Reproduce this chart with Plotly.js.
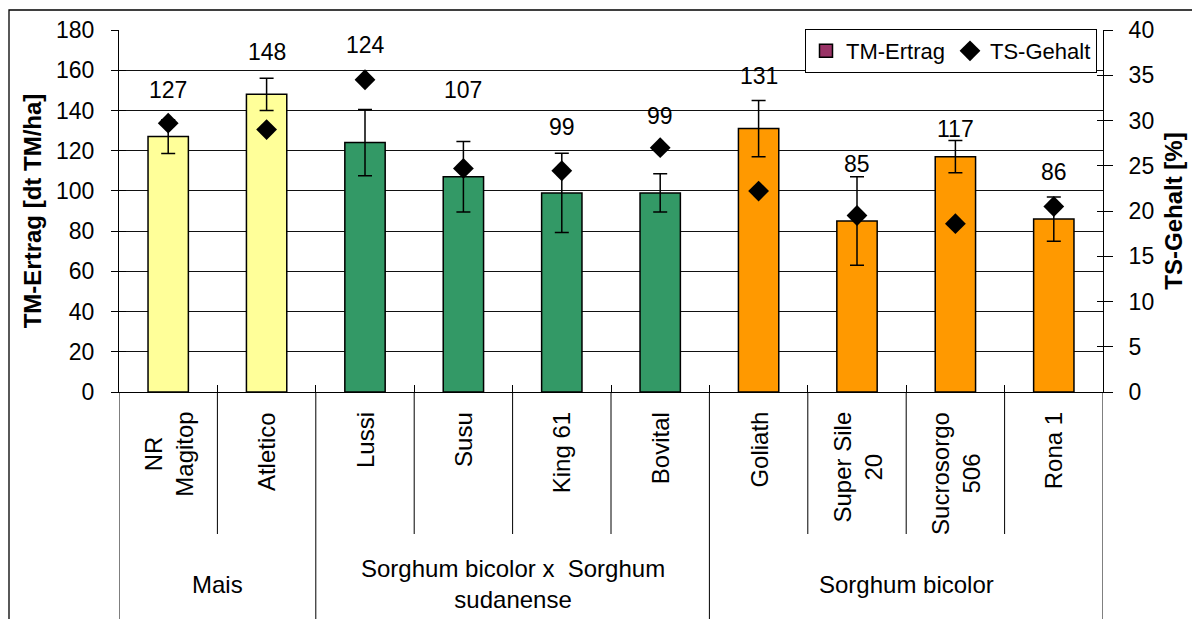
<!DOCTYPE html>
<html>
<head>
<meta charset="utf-8">
<script src="https://cdn.plot.ly/plotly-3.0.1.min.js"></script>
<style>html,body{margin:0;padding:0;background:#fff;}#chart{width:1192px;height:619px;}</style>
</head>
<body>
<div id="chart"></div>
<script>
// ---------- data ----------
var categories = ['NR Magitop','Atletico','Lussi','Susu','King 61','Bovital','Goliath','Super Sile 20','Sucrosorgo 506','Rona 1'];
var categoryLabels = ['NR<br>Magitop','Atletico','Lussi','Susu','King 61','Bovital','Goliath','Super Sile<br>20','Sucrosorgo<br>506','Rona 1'];
var tmErtrag = [127, 148, 124, 107, 99, 99, 131, 85, 117, 86];
var tmError = [8.4, 8, 16.5, 17.5, 19.7, 9.5, 14, 22, 8, 11];
var tsGehalt = [29.7, 29.0, 34.5, 24.7, 24.45, 27.0, 22.2, 19.5, 18.6, 20.5];
var groupOf = [0, 0, 1, 1, 1, 1, 2, 2, 2, 2];
var groupNames = ['Mais', 'Sorghum bicolor x  Sorghum<br>sudanense', 'Sorghum bicolor'];

// ---------- styling ----------
var groupColors = ['#FFFF99', '#339966', '#FF9900'];
var labelY = [150, 169, 172.5, 150, 131.6, 137, 157, 113.4, 130.6, 109.5]; // value-label heights (left-axis units)
var FONT = 'Liberation Sans, Arial, sans-serif';
var FS = 24, FT = 23;

var L = 119, R = 1103, T = 30, B = 392, W = 1192, H = 619;
function px2x(px){ return (px - L) / (R - L); }
function py2y(py){ return (B - py) / (B - T); }

var barTrace = {
  type: 'bar', x: categories, y: tmErtrag, width: 0.41,
  marker: { color: groupOf.map(function(g){ return groupColors[g]; }), line: { color: '#000', width: 1.5 } },
  error_y: { type: 'data', array: tmError, visible: true, color: '#000', thickness: 1.5, width: 7 },
  showlegend: false, hoverinfo: 'x+y'
};
var legendBar = {
  type: 'scatter', mode: 'markers', x: [null], y: [null], name: 'TM-Ertrag',
  marker: { symbol: 'square', size: 13, color: '#993366', line: { color: '#000', width: 1.5 } }
};
var tsTrace = {
  type: 'scatter', mode: 'markers', x: categories, y: tsGehalt, yaxis: 'y2', name: 'TS-Gehalt',
  marker: { symbol: 'diamond', size: 16, color: '#000' }
};
var dummy3 = { type: 'scatter', x: [null], y: [null], yaxis: 'y3', showlegend: false, hoverinfo: 'skip' };
var dummy4 = { type: 'scatter', x: [null], y: [null], yaxis: 'y4', showlegend: false, hoverinfo: 'skip' };

var annotations = [];
categories.forEach(function(c, i){
  annotations.push({ x: c, y: labelY[i], xref: 'x', yref: 'y', text: String(tmErtrag[i]), showarrow: false,
    font: { family: FONT, size: FT, color: '#000' }, xanchor: 'center', yanchor: 'middle' });
  annotations.push({ x: c, y: py2y(410), xref: 'x', yref: 'paper', text: categoryLabels[i], showarrow: false,
    textangle: -90, align: 'center', font: { family: FONT, size: FS, color: '#000' }, xanchor: 'center', yanchor: 'top' });
});
// group labels
var groupStart = [0, 2, 6], groupEnd = [1, 5, 9];
groupNames.forEach(function(g, k){
  annotations.push({ x: (groupStart[k] + groupEnd[k]) / 2, y: py2y(584), xref: 'x', yref: 'paper', text: g, showarrow: false,
    align: 'center', font: { family: FONT, size: FS, color: '#000' }, xanchor: 'center', yanchor: 'middle' });
});

var shapes = [];
// separators below the category axis
for (var i = 0; i <= categories.length; i++) {
  var isGroup = (i === 0 || i === categories.length || groupOf[i] !== groupOf[i - 1]);
  shapes.push({ type: 'line', xref: 'x', yref: 'paper', x0: i - 0.5, x1: i - 0.5, y0: 0, y1: py2y(isGroup ? 640 : 534),
    line: { color: '#000', width: 1 } });
}
// outer chart frame
shapes.push({ type: 'rect', xref: 'paper', yref: 'paper', x0: px2x(9), x1: px2x(1250), y0: py2y(10), y1: py2y(700),
  line: { color: '#000', width: 1.3 }, fillcolor: 'rgba(0,0,0,0)', layer: 'below' });

var layout = {
  width: W, height: H,
  margin: { l: L, r: W - R, t: T, b: H - B, pad: 0 },
  paper_bgcolor: '#fff', plot_bgcolor: '#fff',
  font: { family: FONT, size: FS, color: '#000' },
  bargap: 0,
  xaxis: { type: 'category', categoryorder: 'array', categoryarray: categories, range: [-0.5, 9.5],
    showticklabels: false, ticks: 'inside', tickson: 'boundaries', ticklen: 7, tickcolor: '#000', tickwidth: 1,
    showline: true, linecolor: '#000', linewidth: 1, showgrid: false, zeroline: false, fixedrange: true },
  yaxis: { range: [0, 180], dtick: 20, tick0: 0, ticks: 'outside', ticklen: 7, tickcolor: '#000', tickwidth: 1,
    showline: true, linecolor: '#000', linewidth: 1, showgrid: true, gridcolor: '#111', gridwidth: 1, zeroline: false,
    tickfont: { family: FONT, size: FT, color: '#000' }, ticklabelstandoff: 12,
    title: { text: '<b>TM-Ertrag [dt TM/ha]</b>', font: { family: FONT, size: FS, color: '#000' }, standoff: 7 } },
  yaxis2: { range: [0, 40], dtick: 5, tick0: 0, overlaying: 'y', side: 'right', anchor: 'x', ticks: 'outside', ticklen: 9,
    tickcolor: '#000', tickwidth: 1, showline: true, linecolor: '#000', linewidth: 1, showgrid: false, zeroline: false,
    tickfont: { family: FONT, size: FT, color: '#000' }, ticklabelstandoff: 11,
    title: { text: '<b>TS-Gehalt [%]</b>', font: { family: FONT, size: FS, color: '#000' }, standoff: 12 } },
  yaxis3: { range: [0, 180], dtick: 20, overlaying: 'y', side: 'left', anchor: 'x', ticks: 'inside', ticklen: 7,
    tickcolor: '#000', showticklabels: false, showgrid: false, zeroline: false, showline: false },
  yaxis4: { range: [0, 40], dtick: 5, overlaying: 'y', side: 'right', anchor: 'x', ticks: 'inside', ticklen: 6,
    tickcolor: '#000', showticklabels: false, showgrid: false, zeroline: false, showline: false },
  legend: { orientation: 'h', x: px2x(805), y: py2y(29), xanchor: 'left', yanchor: 'top',
    bgcolor: '#fff', bordercolor: '#000', borderwidth: 1, font: { family: FONT, size: 22, color: '#000' },
    itemwidth: 30, tracegroupgap: 0 },
  annotations: annotations,
  shapes: shapes
};

Plotly.newPlot('chart', [barTrace, legendBar, tsTrace, dummy3, dummy4], layout, { displayModeBar: false, staticPlot: true });
</script>
</body>
</html>
